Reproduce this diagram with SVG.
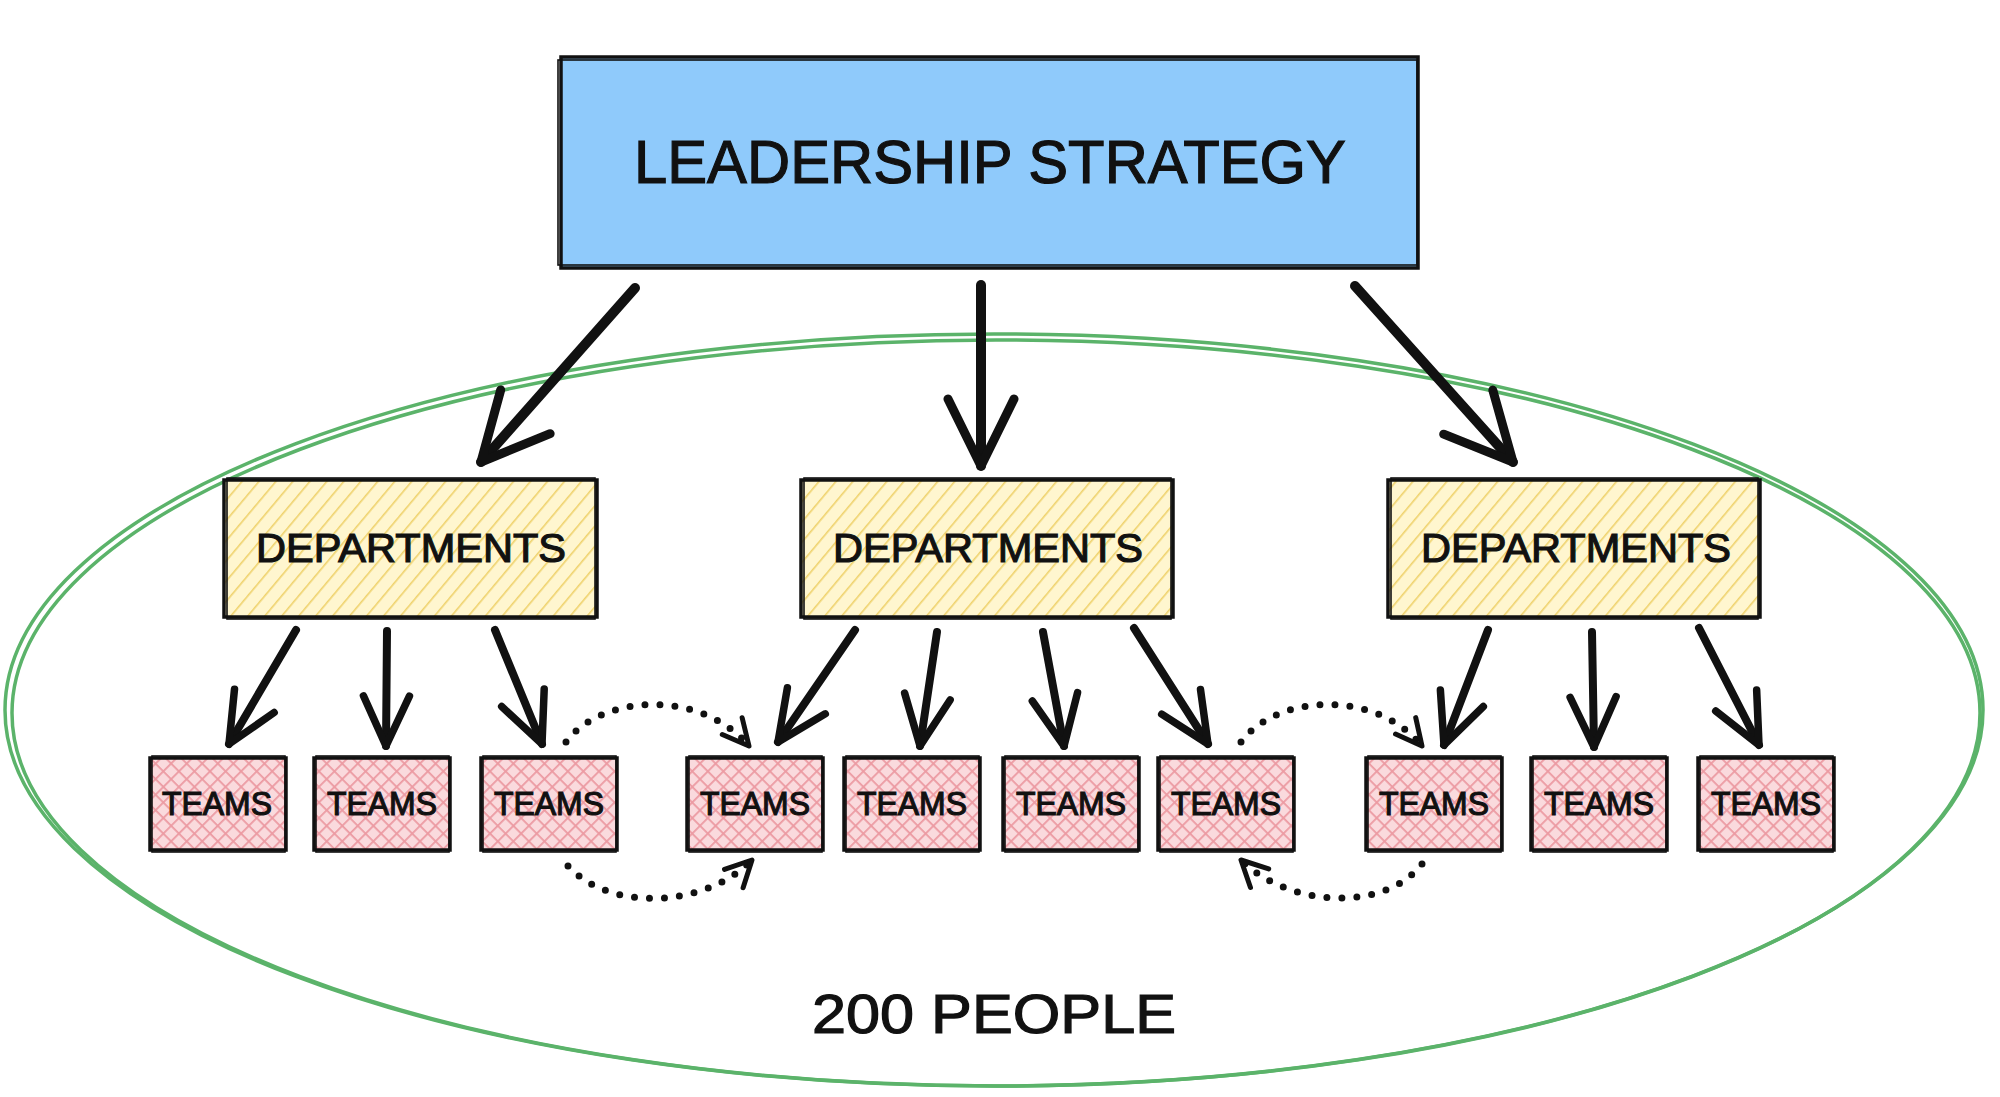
<svg xmlns="http://www.w3.org/2000/svg" width="2000" height="1097" viewBox="0 0 2000 1097">
<defs>
<pattern id="hatchY" patternUnits="userSpaceOnUse" width="13" height="13" patternTransform="rotate(40)">
<rect width="13" height="13" fill="#fff6cf"/>
<line x1="0" y1="0" x2="0" y2="13" stroke="#efd26c" stroke-width="3.2"/>
</pattern>
<pattern id="crossP" patternUnits="userSpaceOnUse" width="11" height="11" patternTransform="rotate(45)">
<rect width="11" height="11" fill="#fadadd"/>
<line x1="0" y1="0" x2="0" y2="11" stroke="#ec9aa2" stroke-width="3.6"/>
<line x1="0" y1="0" x2="11" y2="0" stroke="#ec9aa2" stroke-width="3.6"/>
</pattern>
<marker id="headL" markerUnits="userSpaceOnUse" viewBox="-80 -45 90 90" markerWidth="90" markerHeight="90" refX="0" refY="0" orient="auto" overflow="visible">
<path d="M -67 -33 L 0 0 L -67 33" fill="none" stroke="#111" stroke-width="9" stroke-linecap="round" stroke-linejoin="round"/>
</marker>
<marker id="headS" markerUnits="userSpaceOnUse" viewBox="-60 -30 70 60" markerWidth="70" markerHeight="60" refX="0" refY="0" orient="auto" overflow="visible">
<path d="M -50 -23 L 0 0 L -50 23" fill="none" stroke="#111" stroke-width="7.5" stroke-linecap="round" stroke-linejoin="round"/>
</marker>
<marker id="headD" markerUnits="userSpaceOnUse" viewBox="-40 -20 50 40" markerWidth="50" markerHeight="40" refX="0" refY="0" orient="auto" overflow="visible">
<path d="M -26 -13 L 0 0 L -26 13" fill="none" stroke="#111" stroke-width="5" stroke-linecap="round" stroke-linejoin="round"/>
</marker>
</defs>
<style>
.lbl{font-family:"Liberation Sans","DejaVu Sans",sans-serif;fill:#111;stroke:#111;stroke-width:1.2;text-anchor:middle}
.box{stroke:#111;stroke-width:3.5}
.box2{fill:none;stroke:#111;stroke-width:1.6}
.arL{fill:none;stroke:#111;stroke-width:10;stroke-linecap:round;marker-end:url(#headL)}
.arS{fill:none;stroke:#111;stroke-width:8;stroke-linecap:round;marker-end:url(#headS)}
.dot{fill:none;stroke:#111;stroke-width:7;stroke-linecap:round;stroke-dasharray:0 15;marker-end:url(#headD)}
.grp{fill:none;stroke:#5bb36a;stroke-width:3.5}
</style>
<rect width="2000" height="1097" fill="#ffffff"/>

<g id="group-200-people">
<ellipse class="grp" cx="994" cy="710" rx="989" ry="376"/>
<ellipse class="grp" cx="996" cy="713" rx="984" ry="373" stroke-width="2"/>
<text class="lbl" x="994" y="1033" font-size="56" textLength="364" lengthAdjust="spacingAndGlyphs">200 PEOPLE</text>
</g>

<g id="leadership">
<rect class="box" x="561" y="57" width="857" height="211" fill="#8fcafb"/>
<rect class="box2" x="558" y="60" width="859" height="205"/>
<text class="lbl" x="990" y="183" font-size="62" textLength="712" lengthAdjust="spacingAndGlyphs">LEADERSHIP STRATEGY</text>
</g>

<g id="dept-1">
<rect class="box" x="224" y="480" width="373" height="137" fill="url(#hatchY)"/>
<rect class="box2" x="227" y="478" width="368" height="141"/>
<text class="lbl" x="411" y="562" font-size="41" textLength="310" lengthAdjust="spacingAndGlyphs">DEPARTMENTS</text>
</g>
<g id="dept-2">
<rect class="box" x="801" y="480" width="372" height="137" fill="url(#hatchY)"/>
<rect class="box2" x="804" y="478" width="367" height="141"/>
<text class="lbl" x="988" y="562" font-size="41" textLength="310" lengthAdjust="spacingAndGlyphs">DEPARTMENTS</text>
</g>
<g id="dept-3">
<rect class="box" x="1388" y="480" width="372" height="137" fill="url(#hatchY)"/>
<rect class="box2" x="1391" y="478" width="367" height="141"/>
<text class="lbl" x="1576" y="562" font-size="41" textLength="310" lengthAdjust="spacingAndGlyphs">DEPARTMENTS</text>
</g>

<g id="team-1"><rect class="box" x="150" y="758" width="136" height="92" fill="url(#crossP)"/><rect class="box2" x="152" y="756" width="133" height="96"/><text class="lbl" x="217" y="815" font-size="34" textLength="110" lengthAdjust="spacingAndGlyphs">TEAMS</text></g>
<g id="team-2"><rect class="box" x="314" y="758" width="136" height="92" fill="url(#crossP)"/><rect class="box2" x="316" y="756" width="133" height="96"/><text class="lbl" x="382" y="815" font-size="34" textLength="110" lengthAdjust="spacingAndGlyphs">TEAMS</text></g>
<g id="team-3"><rect class="box" x="481" y="758" width="136" height="92" fill="url(#crossP)"/><rect class="box2" x="483" y="756" width="133" height="96"/><text class="lbl" x="549" y="815" font-size="34" textLength="110" lengthAdjust="spacingAndGlyphs">TEAMS</text></g>
<g id="team-4"><rect class="box" x="687" y="758" width="136" height="92" fill="url(#crossP)"/><rect class="box2" x="689" y="756" width="133" height="96"/><text class="lbl" x="755" y="815" font-size="34" textLength="110" lengthAdjust="spacingAndGlyphs">TEAMS</text></g>
<g id="team-5"><rect class="box" x="844" y="758" width="136" height="92" fill="url(#crossP)"/><rect class="box2" x="846" y="756" width="133" height="96"/><text class="lbl" x="912" y="815" font-size="34" textLength="110" lengthAdjust="spacingAndGlyphs">TEAMS</text></g>
<g id="team-6"><rect class="box" x="1003" y="758" width="136" height="92" fill="url(#crossP)"/><rect class="box2" x="1005" y="756" width="133" height="96"/><text class="lbl" x="1071" y="815" font-size="34" textLength="110" lengthAdjust="spacingAndGlyphs">TEAMS</text></g>
<g id="team-7"><rect class="box" x="1158" y="758" width="136" height="92" fill="url(#crossP)"/><rect class="box2" x="1160" y="756" width="133" height="96"/><text class="lbl" x="1226" y="815" font-size="34" textLength="110" lengthAdjust="spacingAndGlyphs">TEAMS</text></g>
<g id="team-8"><rect class="box" x="1366" y="758" width="136" height="92" fill="url(#crossP)"/><rect class="box2" x="1368" y="756" width="133" height="96"/><text class="lbl" x="1434" y="815" font-size="34" textLength="110" lengthAdjust="spacingAndGlyphs">TEAMS</text></g>
<g id="team-9"><rect class="box" x="1531" y="758" width="136" height="92" fill="url(#crossP)"/><rect class="box2" x="1533" y="756" width="133" height="96"/><text class="lbl" x="1599" y="815" font-size="34" textLength="110" lengthAdjust="spacingAndGlyphs">TEAMS</text></g>
<g id="team-10"><rect class="box" x="1698" y="758" width="136" height="92" fill="url(#crossP)"/><rect class="box2" x="1700" y="756" width="133" height="96"/><text class="lbl" x="1766" y="815" font-size="34" textLength="110" lengthAdjust="spacingAndGlyphs">TEAMS</text></g>

<g id="connectors">
<path class="arL" d="M 635 288 L 481 462"/>
<path class="arL" d="M 981 285 L 981 466"/>
<path class="arL" d="M 1355 286 L 1513 462"/>

<path class="arS" d="M 296 630 L 229 744"/>
<path class="arS" d="M 387 631 L 386 746"/>
<path class="arS" d="M 495 630 L 542 744"/>

<path class="arS" d="M 855 630 L 778 742"/>
<path class="arS" d="M 937 632 L 920 746"/>
<path class="arS" d="M 1043 632 L 1064 746"/>
<path class="arS" d="M 1134 628 L 1208 744"/>

<path class="arS" d="M 1488 630 L 1444 745"/>
<path class="arS" d="M 1592 632 L 1594 747"/>
<path class="arS" d="M 1699 628 L 1759 745"/>

<path class="dot" d="M 566 742 C 600 695, 700 688, 749 746"/>
<path class="dot" d="M 568 866 C 610 912, 705 908, 752 860"/>
<path class="dot" d="M 1241 742 C 1275 695, 1375 688, 1422 746"/>
<path class="dot" d="M 1422 864 C 1385 912, 1290 908, 1241 860"/>
</g>
</svg>
